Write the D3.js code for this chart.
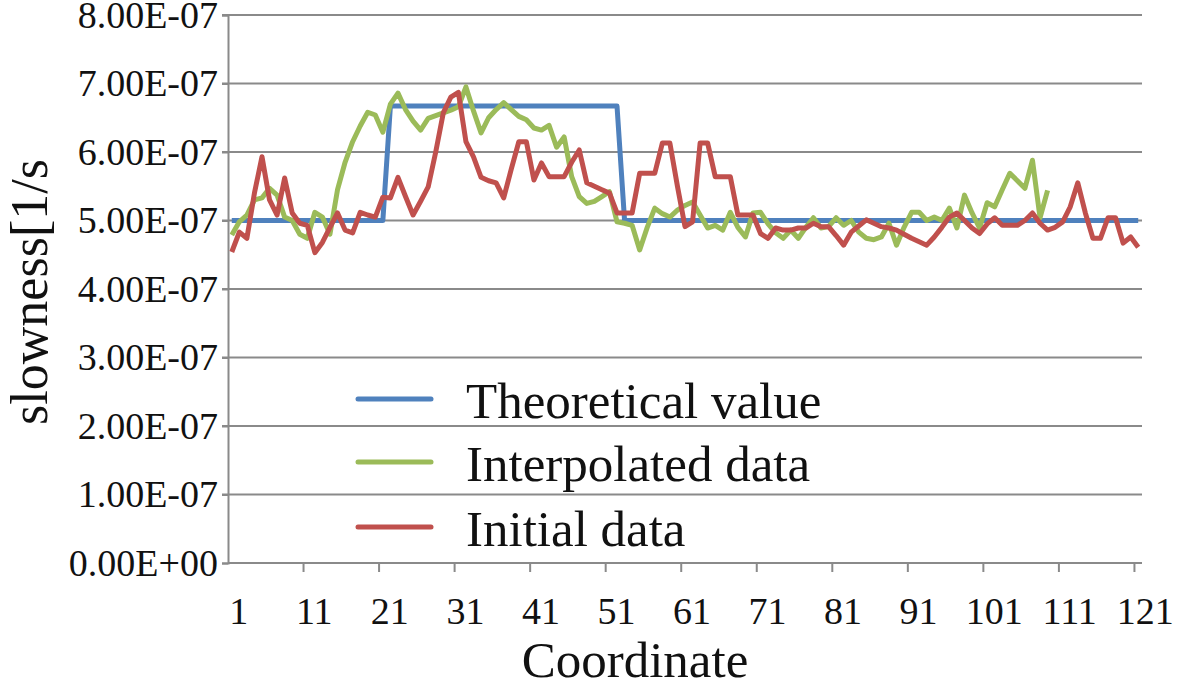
<!DOCTYPE html>
<html>
<head>
<meta charset="utf-8">
<script src="https://cdn.jsdelivr.net/npm/d3@7/dist/d3.min.js"></script>
<style>
  html, body { margin: 0; padding: 0; background: #fff; }
  svg text { font-family: "Liberation Serif", "Times New Roman", serif; fill: #111; }
</style>
</head>
<body>
<svg id="chart" width="1181" height="687"></svg>
<script>
// ---- data (units: 1e-7 1/s) ----
const categories = d3.range(1, 122);
const xTickLabels = [1, 11, 21, 31, 41, 51, 61, 71, 81, 91, 101, 111, 121];
const yTicks = [0, 1, 2, 3, 4, 5, 6, 7, 8];
const yTickLabels = ["0.00E+00","1.00E-07","2.00E-07","3.00E-07","4.00E-07","5.00E-07","6.00E-07","7.00E-07","8.00E-07"];

const theoretical = [
  5,5,5,5,5,5,5,5,5,5, 5,5,5,5,5,5,5,5,5,5, 5,
  6.67,6.67,6.67,6.67,6.67,6.67,6.67,6.67,6.67,6.67,
  6.67,6.67,6.67,6.67,6.67,6.67,6.67,6.67,6.67,6.67,
  6.67,6.67,6.67,6.67,6.67,6.67,6.67,6.67,6.67,6.67, 6.67,
  5,5,5,5,5,5,5,5,5,5, 5,5,5,5,5,5,5,5,5,5,
  5,5,5,5,5,5,5,5,5,5, 5,5,5,5,5,5,5,5,5,5,
  5,5,5,5,5,5,5,5,5,5, 5,5,5,5,5,5,5,5,5,5,
  5,5,5,5,5,5,5,5,5
];

const interpolated = [
  4.79,4.98,5.08,5.30,5.33,5.47,5.37,5.05,5.00,4.80,
  4.74,5.12,5.05,4.80,5.45,5.85,6.15,6.38,6.58,6.54,
  6.29,6.70,6.86,6.62,6.45,6.32,6.49,6.53,6.57,6.61,
  6.66,6.95,6.60,6.28,6.50,6.62,6.72,6.62,6.52,6.47,
  6.35,6.32,6.39,6.07,6.22,5.64,5.35,5.25,5.28,5.35,
  5.42,4.98,4.96,4.93,4.57,4.90,5.18,5.10,5.05,5.15,
  5.22,5.27,5.08,4.89,4.93,4.86,5.12,4.90,4.76,5.11,
  5.12,4.95,4.82,4.74,4.86,4.74,4.90,5.04,4.89,4.91,
  5.04,4.93,5.00,4.83,4.74,4.72,4.76,4.96,4.64,4.90,
  5.12,5.12,5.00,5.05,5.00,5.18,4.89,5.37,5.11,4.89,
  5.26,5.20,5.45,5.69,5.58,5.47,5.88,5.04,5.44
];

const initial = [
  4.54,4.83,4.74,5.40,5.93,5.30,5.08,5.62,5.11,4.96,
  4.93,4.53,4.68,4.90,5.11,4.86,4.82,5.12,5.08,5.05,
  5.34,5.33,5.63,5.35,5.08,5.28,5.49,6.00,6.57,6.80,
  6.87,6.15,5.93,5.63,5.58,5.55,5.33,5.75,6.15,6.15,
  5.59,5.84,5.64,5.64,5.64,5.85,6.03,5.55,5.50,5.45,
  5.40,5.11,5.11,5.11,5.69,5.69,5.69,6.13,6.13,5.50,
  4.91,4.98,6.13,6.13,5.64,5.64,5.64,5.08,5.08,5.08,
  4.81,4.74,4.89,4.86,4.86,4.89,4.89,4.96,4.91,4.91,
  4.78,4.64,4.83,4.92,5.01,4.96,4.91,4.89,4.86,4.80,
  4.74,4.69,4.64,4.76,4.90,5.05,5.11,5.00,4.89,4.81,
  4.95,5.04,4.93,4.93,4.93,5.00,5.11,4.96,4.86,4.90,
  4.98,5.20,5.55,5.11,4.74,4.74,5.04,5.04,4.67,4.76,
  4.61
];

const seriesNames = ["Theoretical value", "Interpolated data", "Initial data"];
const seriesColors = ["#4F81BD", "#9BBB59", "#C0504D"];

// ---- layout ----
const svg = d3.select("#chart");
const plot = { left: 228, right: 1142, top: 15, bottom: 563 };

const x = d3.scaleBand().domain(categories).range([plot.left, plot.right]).paddingInner(0).paddingOuter(0);
const xc = d => x(d) + x.bandwidth() / 2;
const y = d3.scaleLinear().domain([0, 8]).range([plot.bottom, plot.top]);

// gridlines
svg.append("g").selectAll("line").data(yTicks.filter(t => t > 0)).join("line")
  .attr("x1", plot.left - 6).attr("x2", plot.right)
  .attr("y1", d => y(d)).attr("y2", d => y(d))
  .attr("stroke", "#8a8a8a").attr("stroke-width", 2);

// y axis
const yAxis = d3.axisLeft(y).tickValues(yTicks).tickSize(6).tickPadding(4)
  .tickFormat((d, i) => yTickLabels[i]);
const gy = svg.append("g").attr("transform", `translate(${plot.left},0)`).call(yAxis);
gy.select(".domain").attr("stroke", "#8a8a8a").attr("stroke-width", 2);
gy.selectAll(".tick line").attr("stroke", "#8a8a8a").attr("stroke-width", 2);
gy.selectAll(".tick text").attr("font-size", 38).attr("font-family", "Liberation Serif").attr("fill", "#111");

// x axis: ticks at every 10th category boundary
const xAxisG = svg.append("g");
xAxisG.append("line").attr("x1", plot.left).attr("x2", plot.right)
  .attr("y1", plot.bottom).attr("y2", plot.bottom)
  .attr("stroke", "#8a8a8a").attr("stroke-width", 2);
const tickBounds = categories.filter(c => c % 10 === 0);
xAxisG.selectAll("line.tk").data(tickBounds).join("line").attr("class", "tk")
  .attr("x1", d => x(d) + x.bandwidth()).attr("x2", d => x(d) + x.bandwidth())
  .attr("y1", plot.bottom).attr("y2", plot.bottom + 9)
  .attr("stroke", "#8a8a8a").attr("stroke-width", 2);
xAxisG.selectAll("text").data(xTickLabels).join("text")
  .attr("x", d => xc(d) + 7).attr("y", 624)
  .attr("text-anchor", "middle").attr("font-size", 38)
  .text(d => d);

// lines
const line = d3.line().x((d, i) => xc(categories[i])).y(d => y(d));
[theoretical, interpolated, initial].forEach((s, k) => {
  svg.append("path").datum(s)
    .attr("fill", "none").attr("stroke", seriesColors[k])
    .attr("stroke-width", 5).attr("stroke-linejoin", "round")
    .attr("d", line);
});

// axis titles
svg.append("text").attr("x", 635).attr("y", 677).attr("text-anchor", "middle")
  .attr("font-size", 51).text("Coordinate");
svg.append("text").attr("transform", "translate(47,292) rotate(-90)")
  .attr("text-anchor", "middle").attr("font-size", 52).text("slowness[1/s");

// legend
const legendY = [399, 462, 527];
const lg = svg.append("g");
seriesNames.forEach((n, k) => {
  lg.append("line").attr("x1", 358).attr("x2", 431)
    .attr("y1", legendY[k]).attr("y2", legendY[k])
    .attr("stroke", seriesColors[k]).attr("stroke-width", 5).attr("stroke-linecap", "round");
  lg.append("text").attr("x", 466).attr("y", legendY[k] + 19)
    .attr("font-size", 51).text(n);
});
</script>
</body>
</html>
